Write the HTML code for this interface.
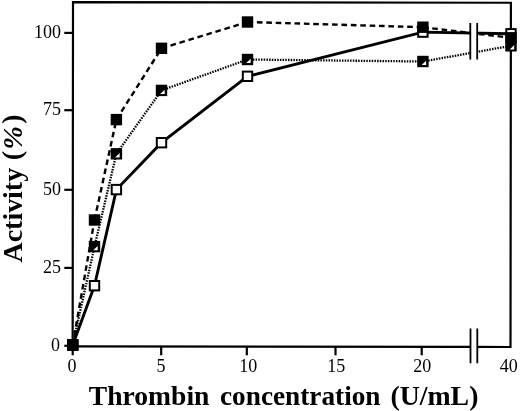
<!DOCTYPE html>
<html><head><meta charset="utf-8"><title>Thrombin activity</title>
<style>
html,body{margin:0;padding:0;background:#fff;}
svg{display:block;}
text{font-family:"Liberation Serif","DejaVu Serif",serif;fill:#000;}
.b{font-weight:bold;}
</style></head><body>
<svg width="520" height="411" viewBox="0 0 520 411">
<rect width="520" height="411" fill="#fff"/>

<g stroke="#000" stroke-width="2.2" fill="none" stroke-linecap="butt">
<path d="M72.65,347.4 L73,2.1 L510.9,2.75 L510.5,348.1"/>
<path d="M72.65,346.3 L470.5,346.9 M477.4,346.95 L510.5,347"/>
<path d="M64.3,345.8 H72.8"/>
<path d="M64.3,267.9 H72.8"/>
<path d="M64.3,189.8 H72.8"/>
<path d="M64.3,110.2 H72.8"/>
<path d="M64.3,32.9 H72.8"/>
<path d="M72.7,346.4 V355.3"/>
<path d="M161.2,346.4 V355.3"/>
<path d="M246.8,346.4 V355.3"/>
<path d="M335.5,346.4 V355.3"/>
<path d="M421.7,346.4 V355.3"/>
</g>
<path d="M72.7,345.0 L94.5,246.6 M94.5,246.6 L116.4,153.8 M116.4,153.8 L161.5,90.4 M161.5,90.4 L247.5,59.5 M247.5,59.5 L422.9,61.5 M422.9,61.5 L511.0,45.8" fill="none" stroke="#000" stroke-width="2.3" stroke-dasharray="1.5 1.2"/>
<path d="M72.7,345.0 L94.5,220.0 M94.5,220.0 L116.4,119.6 M116.4,119.6 L161.5,48.3 M161.5,48.3 L247.5,22.0 M247.5,22.0 L422.9,27.2 M422.9,27.2 L511.0,37.8" fill="none" stroke="#000" stroke-width="2.4" stroke-dasharray="5.6 3.8"/>
<polyline points="72.7,345.0 94.5,285.7 116.4,189.6 161.5,142.7 247.5,76.3 422.9,32.1 511.0,33.8" fill="none" stroke="#000" stroke-width="2.9"/>
<rect x="470.5" y="23" width="6.9" height="37" fill="#fff"/>
<g stroke="#000" stroke-width="1.8"><path d="M470.3,23 V59.6 M477.2,23 V59.6 M470.5,328.4 V363.3 M477.3,328.4 V363.3"/></g>
<rect x="68.0" y="340.3" width="9.4" height="9.4" fill="#fff" stroke="#000" stroke-width="2"/>
<rect x="89.8" y="281.0" width="9.4" height="9.4" fill="#fff" stroke="#000" stroke-width="2"/>
<rect x="111.7" y="184.9" width="9.4" height="9.4" fill="#fff" stroke="#000" stroke-width="2"/>
<rect x="156.8" y="138.0" width="9.4" height="9.4" fill="#fff" stroke="#000" stroke-width="2"/>
<rect x="242.8" y="71.6" width="9.4" height="9.4" fill="#fff" stroke="#000" stroke-width="2"/>
<rect x="418.2" y="27.4" width="9.4" height="9.4" fill="#fff" stroke="#000" stroke-width="2"/>
<rect x="506.3" y="29.1" width="9.4" height="9.4" fill="#fff" stroke="#000" stroke-width="2"/>
<rect x="67.0" y="339.3" width="11.4" height="11.4" fill="#000"/><polygon points="75.9,344.3 75.9,348.6 71.4,348.6" fill="#fff"/>
<rect x="88.8" y="240.9" width="11.4" height="11.4" fill="#000"/><polygon points="97.7,245.9 97.7,250.2 93.2,250.2" fill="#fff"/>
<rect x="110.7" y="148.1" width="11.4" height="11.4" fill="#000"/><polygon points="119.6,153.1 119.6,157.4 115.1,157.4" fill="#fff"/>
<rect x="155.8" y="84.7" width="11.4" height="11.4" fill="#000"/><polygon points="164.7,89.7 164.7,94.0 160.2,94.0" fill="#fff"/>
<rect x="241.8" y="53.8" width="11.4" height="11.4" fill="#000"/><polygon points="250.7,58.8 250.7,63.1 246.2,63.1" fill="#fff"/>
<rect x="417.2" y="55.8" width="11.4" height="11.4" fill="#000"/><polygon points="426.1,60.8 426.1,65.1 421.6,65.1" fill="#fff"/>
<rect x="505.3" y="40.1" width="11.4" height="11.4" fill="#000"/><polygon points="514.2,45.1 514.2,49.4 509.7,49.4" fill="#fff"/>
<rect x="67.0" y="339.3" width="11.4" height="11.4" fill="#000"/>
<rect x="88.8" y="214.3" width="11.4" height="11.4" fill="#000"/>
<rect x="110.7" y="113.9" width="11.4" height="11.4" fill="#000"/>
<rect x="155.8" y="42.6" width="11.4" height="11.4" fill="#000"/>
<rect x="241.8" y="16.3" width="11.4" height="11.4" fill="#000"/>
<rect x="417.2" y="21.5" width="11.4" height="11.4" fill="#000"/>
<rect x="505.3" y="32.1" width="11.4" height="11.4" fill="#000"/>
<text x="60.0" y="351.1" font-size="18" text-anchor="end">0</text>
<text x="61.0" y="272.7" font-size="18" text-anchor="end">25</text>
<text x="61.0" y="194.6" font-size="18" text-anchor="end">50</text>
<text x="61.0" y="115.0" font-size="18" text-anchor="end">75</text>
<text x="61.0" y="37.7" font-size="18" text-anchor="end">100</text>
<text x="72.0" y="371.5" font-size="18" text-anchor="middle">0</text>
<text x="161.0" y="371.5" font-size="18" text-anchor="middle">5</text>
<text x="248.2" y="371.5" font-size="18" text-anchor="middle">10</text>
<text x="336.3" y="371.5" font-size="18" text-anchor="middle">15</text>
<text x="422.3" y="371.5" font-size="18" text-anchor="middle">20</text>
<text x="508.8" y="371.5" font-size="18" text-anchor="middle">40</text>
<text class="b" x="88.8" y="404.6" font-size="28" textLength="120.6" lengthAdjust="spacingAndGlyphs">Thrombin</text>
<text class="b" x="220.0" y="404.6" font-size="28" textLength="160.5" lengthAdjust="spacingAndGlyphs">concentration</text>
<text class="b" x="390.4" y="404.6" font-size="28" textLength="88" lengthAdjust="spacingAndGlyphs">(U/mL)</text>
<g transform="translate(21.7,262.4) rotate(-90)" class="b" font-size="28"><text x="0" y="0" textLength="94.5" lengthAdjust="spacingAndGlyphs">Activity</text><text x="102.2" y="-0.8">(</text><text x="113" y="0" font-style="italic">%</text><text x="138.6" y="-0.8">)</text></g>
</svg></body></html>
